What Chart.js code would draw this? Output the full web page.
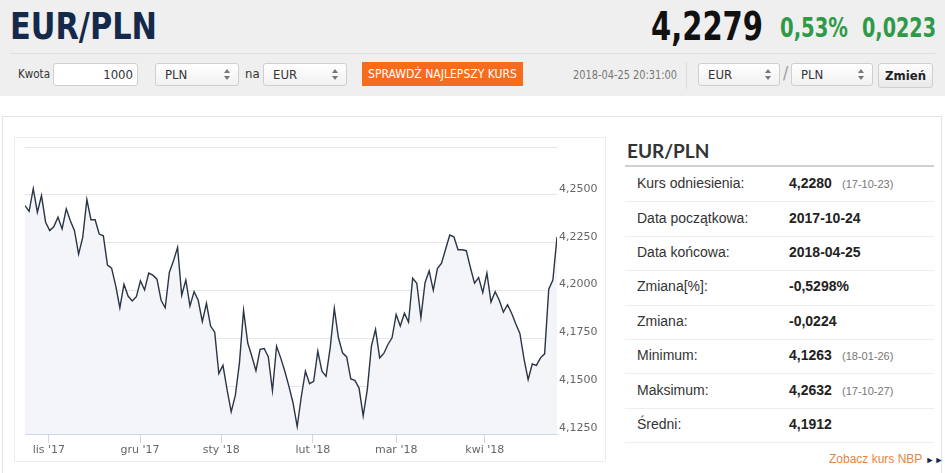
<!DOCTYPE html>
<html>
<head>
<meta charset="utf-8">
<script src="https://cdn.jsdelivr.net/npm/chart.js@4.4.1/dist/chart.umd.min.js"></script>
<style>
  html, body { margin: 0; padding: 0; }
  body { width: 945px; height: 473px; position: relative; overflow: hidden; background: #fff;
         font-family: "Liberation Sans", Arial, sans-serif; }
  .abs { position: absolute; }
  .narrow { font-family: "Liberation Sans Narrow", "DejaVu Sans Condensed", "Liberation Sans", sans-serif; }
  .fit { white-space: nowrap; transform-origin: 0 0; }
  #top { left: 0; top: 0; width: 945px; height: 96px; background: #efefef; }
  .box { background: #fff; border: 1px solid #cfcfcf; border-radius: 3px; box-sizing: border-box; height: 23px; }
  .sel { background: linear-gradient(#fff, #f1f1f1); font-size: 13px; color: #333; line-height: 21px; padding-left: 9px; }
  .arr { position: absolute; right: 8px; top: 5px; width: 6px; height: 11px; }
  .arr:before, .arr:after { content: ""; position: absolute; left: 0; border-left: 3px solid transparent; border-right: 3px solid transparent; }
  .arr:before { top: 0; border-bottom: 4px solid #777; }
  .arr:after { bottom: 0; border-top: 4px solid #777; }
  .lbl { font-size: 14px; color: #333; }
  .val { font-size: 14px; font-weight: bold; color: #222; }
  .dt { font-size: 11px; color: #777; }
  .sep { height: 1px; background: #eee; left: 625px; width: 309px; }
</style>
</head>
<body>
<div id="top" class="abs"></div>
<div class="abs narrow fit" data-w="147" style="left:10px;top:4px;font-size:38px;font-weight:bold;color:#15294a;">EUR/PLN</div>
<div class="abs narrow fit" data-w="112" style="left:651px;top:4px;font-size:39px;font-weight:bold;color:#111;">4,2279</div>
<div class="abs narrow fit" data-w="68" style="left:780px;top:12px;font-size:27px;font-weight:bold;color:#2e9a48;">0,53%</div>
<div class="abs narrow fit" data-w="74" style="left:862px;top:12px;font-size:27px;font-weight:bold;color:#2e9a48;">0,0223</div>
<div class="abs" style="left:10px;top:53px;width:925px;height:1px;background:#dedede;"></div>

<div class="abs narrow fit" data-w="32" style="left:18px;top:66px;font-size:13px;color:#333;">Kwota</div>
<div class="abs box narrow" style="left:53px;top:63px;width:85px;text-align:right;font-size:13px;line-height:21px;padding-right:4px;color:#333;">1000</div>
<div class="abs box sel narrow" style="left:155px;top:63px;width:84px;">PLN<span class="arr"></span></div>
<div class="abs narrow" style="left:245px;top:66px;font-size:13px;color:#333;">na</div>
<div class="abs box sel narrow" style="left:263px;top:63px;width:84px;">EUR<span class="arr"></span></div>
<div class="abs" style="left:362px;top:62px;width:161px;height:24px;background:#f56c1e;"></div>
<div class="abs narrow fit" data-w="149" style="left:368px;top:67px;font-size:12px;color:#fff;">SPRAWDŹ NAJLEPSZY KURS</div>
<div class="abs narrow fit" data-w="104" style="left:573px;top:68px;font-size:12px;color:#777;">2018-04-25 20:31:00</div>
<div class="abs" style="left:686px;top:62px;width:1px;height:27px;background:#dcdcdc;"></div>
<div class="abs box sel narrow" style="left:698px;top:63px;width:82px;">EUR<span class="arr"></span></div>
<div class="abs narrow" style="left:783px;top:63px;font-size:17px;color:#999;">/</div>
<div class="abs box sel narrow" style="left:791px;top:63px;width:82px;">PLN<span class="arr"></span></div>
<div class="abs box narrow" style="left:878px;top:63px;width:55px;height:25px;background:linear-gradient(#fdfdfd,#e9e9e9);font-size:13px;font-weight:bold;color:#222;text-align:center;line-height:23px;">Zmień</div>

<div class="abs" style="left:2px;top:116px;width:940px;height:370px;border:1px solid #e4e4e4;box-sizing:border-box;"></div>
<div class="abs" style="left:14px;top:137px;width:592px;height:325px;border:1px solid #ececec;box-sizing:border-box;"></div>
<div class="abs" style="left:14px;top:137px;width:592px;height:325px;"><canvas id="c"></canvas></div>

<div class="abs" style="left:627px;top:139px;font-family:Lato,'Liberation Sans',sans-serif;font-size:19px;font-weight:bold;color:#333;">EUR/PLN</div>
<div class="abs" style="left:625px;top:165px;width:309px;height:2px;background:#d0d0d0;"></div>
<div id="tbl"></div>
<div class="abs" style="left:829px;top:452px;font-size:12px;color:#e8843e;">Zobacz kurs NBP <span style="color:#15294a;font-size:9px;">&#9658;&#9658;</span></div>

<script>
// EUR/PLN, kolejne notowania 2017-10-24 .. 2018-04-25
const kurs = [
  4.2444, 4.2414, 4.2532, 4.2409, 4.2496, 4.2357, 4.2313, 4.2334, 4.2383, 4.2322,
  4.2427, 4.2365, 4.2313, 4.2190, 4.2278, 4.2475, 4.2370, 4.2370, 4.2295, 4.2286,
  4.2133, 4.2117, 4.2024, 4.1910, 4.2033, 4.1971, 4.1945, 4.1968, 4.2050, 4.2003,
  4.2091, 4.2080, 4.2059, 4.1949, 4.1910, 4.2094, 4.2155, 4.2225, 4.1975, 4.2055,
  4.1919, 4.1994, 4.1949, 4.1837, 4.1933, 4.1814, 4.1782, 4.1566, 4.1609, 4.1482,
  4.1366, 4.1452, 4.1622, 4.1896, 4.1727, 4.1656, 4.1581, 4.1692, 4.1697, 4.1653,
  4.1476, 4.1709, 4.1648, 4.1578, 4.1499, 4.1412, 4.1289, 4.1446, 4.1578, 4.1513,
  4.1525, 4.1683, 4.1578, 4.1551, 4.1700, 4.1907, 4.1753, 4.1674, 4.1653, 4.1538,
  4.1530, 4.1490, 4.1345, 4.1482, 4.1709, 4.1797, 4.1648, 4.1671, 4.1718, 4.1753,
  4.1875, 4.1814, 4.1881, 4.1835, 4.2064, 4.2038, 4.1858, 4.2041, 4.2103, 4.2001,
  4.2115, 4.2143, 4.2217, 4.2290, 4.2281, 4.2213, 4.2213, 4.2208, 4.2120, 4.2038,
  4.2068, 4.1989, 4.2091, 4.1940, 4.1994, 4.1949, 4.1887, 4.1926, 4.1881, 4.1826,
  4.1776, 4.1643, 4.1534, 4.1616, 4.1609, 4.1648, 4.1669, 4.2007, 4.2055, 4.2279
]

// miesiace na osi x (pozycja = numer notowania)
const miesiace = ["lis '17", "gru '17", "sty '18", "lut '18", "mar '18", "kwi '18"]
const miesiacePoz = [5.8, 27.9, 47.6, 69.8, 90, 111.5]

// tabela po prawej
const etykiety = ['Kurs odniesienia:', 'Data początkowa:', 'Data końcowa:', 'Zmiana[%]:', 'Zmiana:', 'Minimum:', 'Maksimum:', 'Średni:']
const wartosci = ['4,2280', '2017-10-24', '2018-04-25', '-0,5298%', '-0,0224', '4,1263', '4,2632', '4,1912']
const daty = ['(17-10-23)', '', '', '', '', '(18-01-26)', '(17-10-27)', '']

// waskie napisy w naglowku - dopasowanie szerokosci
document.querySelectorAll('.fit').forEach(el => {
  const w = el.getBoundingClientRect().width
  el.style.transform = `scaleX(${el.dataset.w / w})`
})

// tabela
let html = ''
const rowTop = 167, rowH = 34.4
etykiety.forEach((e, i) => {
  const cy = rowTop + rowH * (i + 0.5)
  html += `<div class="abs lbl" style="left:637px;top:${cy - 9}px;">${e}</div>`
  html += `<div class="abs val" style="left:789px;top:${cy - 9}px;">${wartosci[i]}</div>`
  if (daty[i]) html += `<div class="abs dt" style="left:842px;top:${cy - 6}px;">${daty[i]}</div>`
  html += `<div class="abs sep" style="top:${Math.round(rowTop + rowH * (i + 1))}px;"></div>`
})
document.getElementById('tbl').innerHTML = html

const fmt = v => v.toFixed(4).replace('.', ',')

new Chart(document.getElementById('c'), {
  type: 'line',
  data: {
    datasets: [{
      data: kurs.map((v, i) => ({ x: i, y: v })),
      borderColor: '#2b3546',
      borderWidth: 1.4,
      backgroundColor: '#f3f5f8',
      fill: 'start',
      pointRadius: 0,
      tension: 0
    }]
  },
  options: {
    responsive: true,
    maintainAspectRatio: false,
    animation: false,
    layout: { padding: { left: 11, top: 10, right: 0, bottom: 0 } },
    plugins: { legend: { display: false }, tooltip: { enabled: false } },
    scales: {
      x: {
        type: 'linear',
        min: 0,
        max: kurs.length - 1,
        afterBuildTicks: s => { s.ticks = miesiacePoz.map(v => ({ value: v })) },
        afterFit: s => { s.height = 28 },
        grid: { drawOnChartArea: false, drawTicks: true, tickLength: 9, color: '#ccd6eb' },
        border: { display: true, color: '#ccd6eb' },
        ticks: {
          autoSkip: false,
          maxRotation: 0,
          padding: 1,
          color: '#666',
          font: { family: 'DejaVu Sans', size: 11 },
          callback: (v, i) => miesiace[i]
        }
      },
      y: {
        position: 'right',
        min: 4.125,
        max: 4.275,
        afterFit: s => { s.width = 49 },
        grid: { color: '#e6e6e6', drawTicks: false },
        border: { display: false },
        ticks: {
          stepSize: 0.025,
          padding: 2,
          labelOffset: -6,
          color: '#666',
          font: { family: 'DejaVu Sans', size: 11 },
          callback: v => (v > 4.26 ? '' : fmt(v))
        }
      }
    }
  }
})
</script>
</body>
</html>
